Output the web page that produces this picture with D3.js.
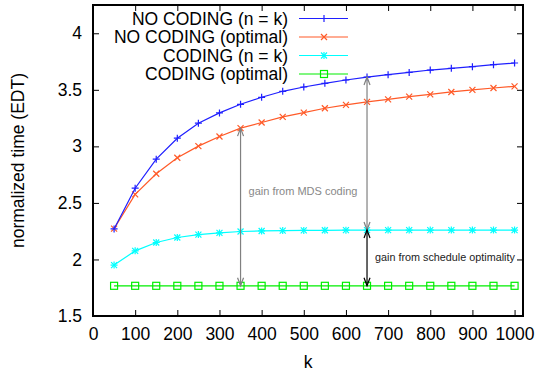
<!DOCTYPE html>
<html>
<head>
<meta charset="utf-8">
<script src="https://cdn.jsdelivr.net/npm/d3@7"></script>
<style>
  body { margin: 0; background: #fff; }
  svg { font-family: "Liberation Sans", Arial, sans-serif; }
</style>
</head>
<body>
<svg id="chart" width="537" height="376"></svg>
<script>
const kValues = [50, 100, 150, 200, 250, 300, 350, 400, 450, 500, 550, 600, 650, 700, 750, 800, 850, 900, 950, 1000];
const noCodingNk = [2.27, 2.63, 2.887, 3.072, 3.205, 3.296, 3.372, 3.434, 3.487, 3.525, 3.557, 3.587, 3.613, 3.634, 3.654, 3.675, 3.69, 3.705, 3.722, 3.737];
const noCodingOpt = [2.273, 2.576, 2.758, 2.899, 3.002, 3.087, 3.161, 3.211, 3.261, 3.299, 3.337, 3.367, 3.393, 3.416, 3.44, 3.46, 3.481, 3.499, 3.516, 3.531];
const codingNk = [1.95, 2.076, 2.15, 2.194, 2.22, 2.235, 2.247, 2.252, 2.255, 2.257, 2.258, 2.259, 2.26, 2.26, 2.26, 2.26, 2.26, 2.26, 2.26, 2.26];
const codingOpt = [1.767, 1.767, 1.767, 1.767, 1.767, 1.767, 1.767, 1.767, 1.767, 1.767, 1.767, 1.767, 1.767, 1.767, 1.767, 1.767, 1.767, 1.767, 1.767, 1.767];
const xTicks = [0, 100, 200, 300, 400, 500, 600, 700, 800, 900, 1000];
const yTicks = [1.5, 2, 2.5, 3, 3.5, 4];

const series = [
  { name: "NO CODING (n = k)", values: noCodingNk, color: "#1f1fff", marker: "plus" },
  { name: "NO CODING (optimal)", values: noCodingOpt, color: "#ff5a28", marker: "cross" },
  { name: "CODING (n = k)", values: codingNk, color: "#00ffff", marker: "star" },
  { name: "CODING (optimal)", values: codingOpt, color: "#00ee00", marker: "square" }
];

const margin = { top: 5, right: 14, bottom: 60, left: 93 };
const width = 537, height = 376;
const w = width - margin.left - margin.right;
const h = height - margin.top - margin.bottom;

const x = d3.scaleLinear().domain([0, 1020]).range([0, w]);
const y = d3.scaleLinear().domain([1.5, 4.25]).range([h, 0]);

const svg = d3.select("#chart");
const g = svg.append("g").attr("transform", `translate(${margin.left},${margin.top})`);

// axes (ticks inward, mirrored)
const styleAxis = sel => {
  sel.select(".domain").remove();
  sel.selectAll("line").attr("stroke", "#000").attr("stroke-width", 1);
  sel.selectAll("text").attr("font-size", 17.5).attr("fill", "#000");
};
g.append("g").attr("transform", `translate(0,${h})`)
  .call(d3.axisBottom(x).tickValues(xTicks).tickSize(-6).tickPadding(12).tickFormat(d3.format("d")))
  .call(styleAxis);
g.append("g")
  .call(d3.axisTop(x).tickValues(xTicks).tickSize(-6).tickFormat(""))
  .call(styleAxis);
g.append("g")
  .call(d3.axisLeft(y).tickValues(yTicks).tickSize(-6).tickPadding(11).tickFormat(d3.format("")))
  .call(styleAxis);
g.append("g").attr("transform", `translate(${w},0)`)
  .call(d3.axisRight(y).tickValues(yTicks).tickSize(-6).tickFormat(""))
  .call(styleAxis);

g.append("rect").attr("width", w).attr("height", h)
  .attr("fill", "none").attr("stroke", "#000").attr("stroke-width", 2);

// markers
const drawMarker = (sel, type, color) => {
  if (type === "plus" || type === "star") {
    sel.append("path").attr("d", "M-3.5,0H3.5M0,-3.5V3.5");
  }
  if (type === "cross" || type === "star") {
    sel.append("path").attr("d", "M-3,-3L3,3M-3,3L3,-3");
  }
  if (type === "square") {
    sel.append("rect").attr("x", -3.5).attr("y", -3.5).attr("width", 7).attr("height", 7).attr("fill", "none");
  }
  sel.selectAll("path, rect").attr("stroke", color).attr("stroke-width", 1.2);
};

const line = d3.line().x(d => x(d[0])).y(d => y(d[1]));
series.slice().reverse().forEach(s => {
  const pts = kValues.map((k, i) => [k, s.values[i]]);
  g.append("path").datum(pts).attr("d", line)
    .attr("fill", "none").attr("stroke", s.color).attr("stroke-width", 1.2);
  g.selectAll(null).data(pts).enter().append("g")
    .attr("transform", d => `translate(${x(d[0])},${y(d[1])})`)
    .each(function () { drawMarker(d3.select(this), s.marker, s.color); });
});

// arrows
const arrow = (k, v1, v2, color) => {
  const xx = x(k), y1 = y(v1), y2 = y(v2);
  const a = g.append("g").attr("stroke", color).attr("fill", "none").attr("stroke-width", 1.2);
  a.append("line").attr("x1", xx).attr("x2", xx).attr("y1", y1).attr("y2", y2);
  const top = Math.min(y1, y2), bot = Math.max(y1, y2);
  a.append("path").attr("d", `M${xx - 3},${top + 8}L${xx},${top}L${xx + 3},${top + 8}`);
  a.append("path").attr("d", `M${xx - 3},${bot - 8}L${xx},${bot}L${xx + 3},${bot - 8}`);
};
arrow(350, noCodingOpt[6], codingOpt[6], "#808080");
arrow(650, noCodingNk[12], codingNk[12], "#808080");
arrow(650, codingNk[12], codingOpt[12], "#000");

g.append("text").attr("x", x(350) + 8).attr("y", y(2.6) + 3.5)
  .attr("font-size", 11).attr("fill", "#888").text("gain from MDS coding");
g.append("text").attr("x", x(650) + 8).attr("y", y(2.015) + 3.5)
  .attr("font-size", 10.8).attr("fill", "#222").text("gain from schedule optimality");

// legend
const legend = svg.append("g");
series.forEach((s, i) => {
  const ly = 18.5 + i * 18.5;
  legend.append("text").attr("x", 288).attr("y", ly + 6).attr("text-anchor", "end")
    .attr("font-size", 17.5).attr("fill", "#000").text(s.name);
  legend.append("line").attr("x1", 299).attr("x2", 348).attr("y1", ly).attr("y2", ly)
    .attr("stroke", s.color).attr("stroke-width", 1.2);
  legend.append("g").attr("transform", `translate(324,${ly})`)
    .call(sel => drawMarker(sel, s.marker, s.color));
});

// axis titles
svg.append("text").attr("x", margin.left + x(510)).attr("y", 368)
  .attr("text-anchor", "middle").attr("font-size", 17.5).text("k");
svg.append("text").attr("transform", `translate(24,${margin.top + h / 2}) rotate(-90)`)
  .attr("text-anchor", "middle").attr("font-size", 17.5).text("normalized time (EDT)");
</script>
</body>
</html>
